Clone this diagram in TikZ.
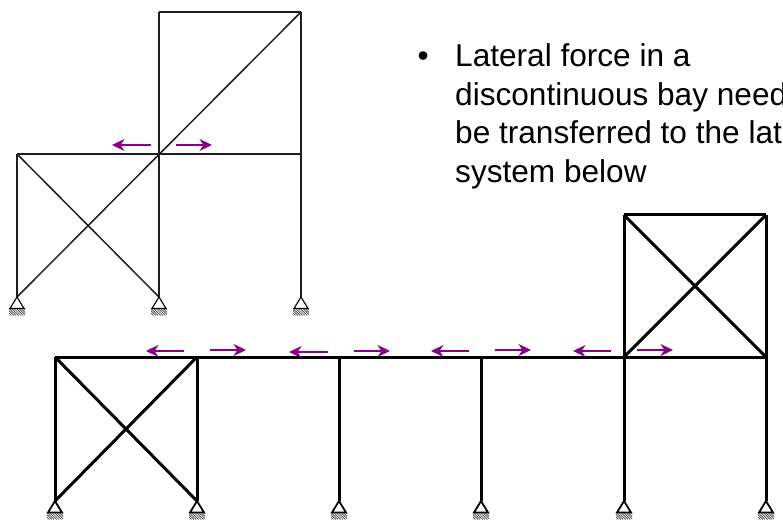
\documentclass[tikz,border=0pt]{standalone}
\usepackage{fontspec}
\setmainfont{Liberation Sans}
\usetikzlibrary{arrows.meta,calc}
\definecolor{forcecol}{RGB}{136,0,136}
\tikzset{
  thinframe/.style={line width=1.5bp,black!88},
  thickframe/.style={line width=3bp,black},
  force/.style={draw=forcecol,line width=1.25bp,-{Stealth[length=12.5bp,width=12bp,inset=4bp]}},
  bodytext/.style={anchor=base west,inner sep=0pt,font=\fontsize{31.6bp}{31.6bp}\selectfont},
}
\newcommand{\pinsupport}[2]{%
  \draw[line width=#2,fill=white] (#1) -- ++(-7,11.5) -- ++(14,0) -- cycle;
  \begin{scope}
    \clip ($(#1)+(-8,11.5)$) rectangle ($(#1)+(8,18.5)$);
    \foreach \hx in {-8,-5.6,...,16}{
      \draw[line width=0.7bp,black!75] ($(#1)+(\hx,18.5)$) -- ++(-7,-7);
    }
  \end{scope}
  \draw[line width=#2] ($(#1)+(-8,11.5)$) -- ($(#1)+(8,11.5)$);
}
\begin{document}
\begin{tikzpicture}[x=1bp,y=-1bp]
\useasboundingbox (0,0) rectangle (783,529);
\clip (0,0) rectangle (783,529);
% upper frame
\coordinate (ua) at (17,297); \coordinate (ub) at (159,297); \coordinate (uc) at (301,297);
\coordinate (ud) at (17,154); \coordinate (ue) at (159,154); \coordinate (uf) at (301,154);
\coordinate (ug) at (159,12); \coordinate (uh) at (301,12);
\draw[thinframe] (ud) -- (ue) -- (uf);
\draw[thinframe] (ug) -- (uh);
\draw[thinframe] (ud) -- (ua);
\draw[thinframe] (ug) -- (ub);
\draw[thinframe] (uh) -- (uc);
\draw[thinframe] (ud) -- (ub);
\draw[thinframe] (ua) -- (uh);
\pinsupport{ua}{1.1bp}
\pinsupport{ub}{1.1bp}
\pinsupport{uc}{1.1bp}
% lower frame
\coordinate (la) at (55,501); \coordinate (lb) at (197,501); \coordinate (lc) at (339,501);
\coordinate (ld) at (481,501); \coordinate (le) at (624,501); \coordinate (lf) at (766,501);
\coordinate (lg) at (55,357); \coordinate (lh) at (197,357); \coordinate (li) at (339,357);
\coordinate (lj) at (481,357); \coordinate (lk) at (624,357); \coordinate (ll) at (766,357);
\coordinate (lm) at (624,215); \coordinate (ln) at (766,215);
\draw[thickframe] (lg) -- (ll);
\draw[thickframe] (lm) -- (ln);
\draw[thickframe] (lg) -- (la);
\draw[thickframe] (lh) -- (lb);
\draw[thickframe] (li) -- (lc);
\draw[thickframe] (lj) -- (ld);
\draw[thickframe] (lm) -- (le);
\draw[thickframe] (ln) -- (lf);
\draw[thickframe] (lg) -- (lb);
\draw[thickframe] (la) -- (lh);
\draw[thickframe] (lm) -- (ll);
\draw[thickframe] (ln) -- (lk);
\pinsupport{la}{1.8bp}
\pinsupport{lb}{1.8bp}
\pinsupport{lc}{1.8bp}
\pinsupport{ld}{1.8bp}
\pinsupport{le}{1.8bp}
\pinsupport{lf}{1.8bp}
% forces
\foreach \n/\xa/\xb/\yy in {a/151/112/145,b/176/212/145,c/184/146/351,d/210/246/350,e/328/289/352,f/354/390/351,g/469/431/351,h/495/531/350,i/611/573/351,j/637/673/350}{
  \coordinate (s\n) at (\xa,\yy);
  \coordinate (t\n) at (\xb,\yy);
  \draw[force] (s\n) -- (t\n);
}
% text
\node[bodytext] (bullet) at (417.5,67) {•};
\node[bodytext] (l1) at (455,67) {Lateral force in a};
\node[bodytext] (l2) at (455,106) {discontinuous bay need};
\node[bodytext] (l3) at (455,144) {be transferred to the lat};
\node[bodytext] (l4) at (455,183) {system below};
\end{tikzpicture}
\end{document}
